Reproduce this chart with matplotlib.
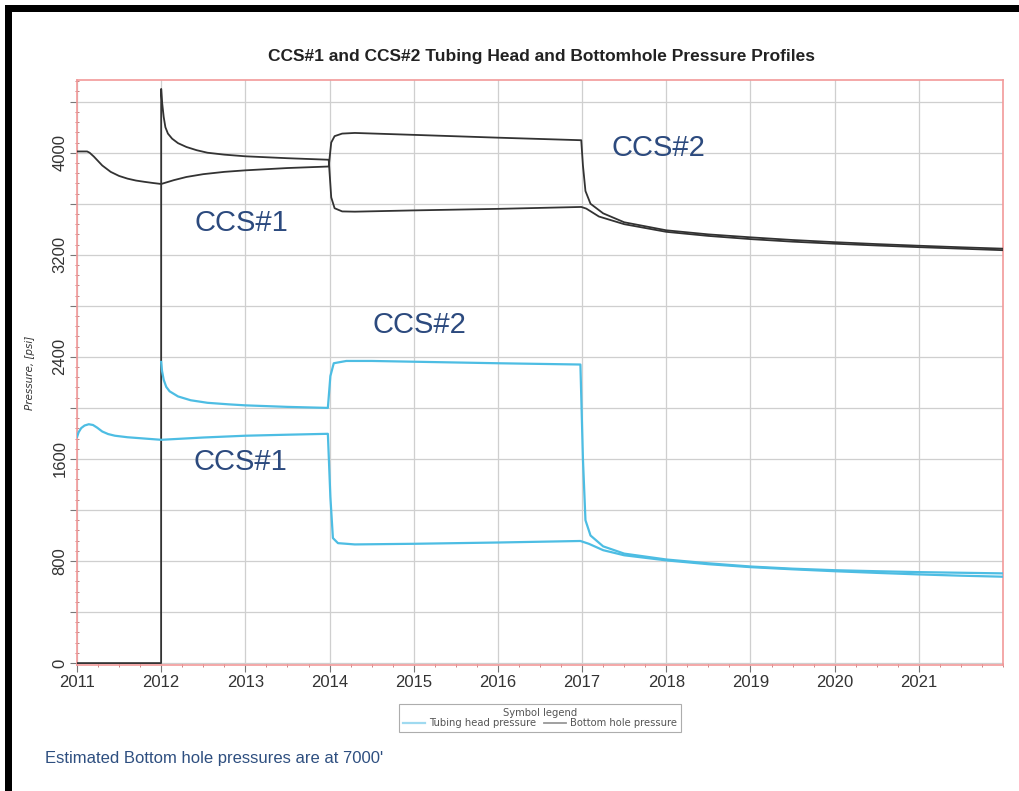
import matplotlib
matplotlib.use('Agg')
import matplotlib.pyplot as plt
from matplotlib.patches import Rectangle
from matplotlib.ticker import MultipleLocator

# ---------------- data (decimal years, psi) ----------------
bhp1_t = [2011.0, 2011.12, 2011.15, 2011.2, 2011.25, 2011.3, 2011.4, 2011.5, 2011.6, 2011.7,
          2011.8, 2011.9, 2012.0, 2012.05, 2012.15, 2012.3, 2012.5, 2012.75, 2013.0, 2013.5,
          2013.99, 2014.02, 2014.06, 2014.15, 2014.3, 2015.0, 2016.0, 2016.99,
          2017.01, 2017.04, 2017.1, 2017.25, 2017.5, 2018.0, 2018.5, 2019.0, 2019.5, 2020.0,
          2020.5, 2021.0, 2021.5, 2022.0]
bhp1_v = [4010, 4010, 4000, 3970, 3935, 3900, 3850, 3818, 3797, 3782,
          3772, 3763, 3755, 3765, 3785, 3810, 3832, 3850, 3862, 3880,
          3892, 4080, 4130, 4150, 4155, 4140, 4118, 4098,
          3900, 3700, 3600, 3525, 3455, 3392, 3360, 3337, 3316, 3299,
          3284, 3271, 3259, 3248]

bhp2_t = [2011.0, 2011.999, 2012.0, 2012.01, 2012.03, 2012.05, 2012.08, 2012.13, 2012.2, 2012.3,
          2012.42, 2012.55, 2012.75, 2013.0, 2013.5, 2013.99, 2014.02, 2014.06, 2014.15, 2014.3,
          2015.0, 2016.0, 2016.99, 2017.05, 2017.2, 2017.5, 2018.0, 2018.5, 2019.0, 2019.5,
          2020.0, 2020.5, 2021.0, 2021.5, 2022.0]
bhp2_v = [0, 0, 4500, 4400, 4280, 4200, 4150, 4110, 4075, 4045,
          4020, 4000, 3985, 3972, 3957, 3945, 3650, 3565, 3540, 3538,
          3548, 3560, 3575, 3562, 3500, 3440, 3380, 3348, 3323, 3303,
          3287, 3273, 3260, 3248, 3236]

thp1_t = [2011.0, 2011.02, 2011.05, 2011.09, 2011.14, 2011.19, 2011.24, 2011.3, 2011.37, 2011.45,
          2011.6, 2011.8, 2012.0, 2012.5, 2013.0, 2013.5, 2013.98, 2014.01, 2014.04, 2014.1,
          2014.3, 2015.0, 2016.0, 2016.98, 2017.08, 2017.25, 2017.5, 2018.0, 2018.5, 2019.0,
          2019.5, 2020.0, 2020.5, 2021.0, 2021.5, 2022.0]
thp1_v = [1772, 1810, 1842, 1862, 1872, 1866, 1845, 1815, 1795, 1782,
          1770, 1760, 1750, 1768, 1782, 1790, 1797, 1300, 980, 940,
          930, 935, 945, 957, 935, 885, 845, 805, 775, 752,
          735, 720, 707, 695, 685, 677]

thp2_t = [2012.0, 2012.01, 2012.03, 2012.06, 2012.1, 2012.2, 2012.35, 2012.55, 2012.8, 2013.0,
          2013.5, 2013.98, 2014.01, 2014.05, 2014.2, 2014.5, 2015.0, 2016.0, 2016.98, 2017.01,
          2017.04, 2017.1, 2017.25, 2017.5, 2018.0, 2018.5, 2019.0, 2019.5, 2020.0, 2020.5,
          2021.0, 2021.5, 2022.0]
thp2_v = [2360, 2290, 2220, 2165, 2130, 2090, 2060, 2040, 2028, 2020,
          2008, 2000, 2250, 2350, 2368, 2368, 2362, 2350, 2340, 1600,
          1120, 1000, 915, 858, 812, 782, 757, 740, 728, 720,
          713, 708, 703]

year_ticks = list(range(2011, 2022))
year_labels = [str(y) for y in year_ticks]
p_ticks = list(range(0, 4401, 400))
p_labels = [str(p) if p % 800 == 0 else '' for p in p_ticks]

title = 'CCS#1 and CCS#2 Tubing Head and Bottomhole Pressure Profiles'
annotations = [('CCS#1', 2012.95, 3450), ('CCS#2', 2017.91, 4036),
               ('CCS#2', 2015.07, 2650), ('CCS#1', 2012.94, 1575)]

# ---------------- figure ----------------
W, H = 1019, 791
fig = plt.figure(figsize=(W / 100, H / 100), dpi=100)
fig.patch.set_facecolor('white')

# black frame (top and left)
fig.add_artist(Rectangle((5 / W, 1 - 12 / H), 1 - 5 / W, 7 / H, transform=fig.transFigure,
                         facecolor='black', edgecolor='none'))
fig.add_artist(Rectangle((5 / W, 0), 7 / W, 1 - 5 / H, transform=fig.transFigure,
                         facecolor='black', edgecolor='none'))

ax = fig.add_axes([77 / W, 1 - 665 / H, (1003 - 77) / W, (665 - 80) / H])

blue = '#4dbde3'
dark = '#333333'
l_b1, = ax.plot(bhp1_t, bhp1_v, color=dark, lw=1.3, zorder=3)
ax.plot(bhp2_t, bhp2_v, color=dark, lw=1.3, zorder=3)
l_t1, = ax.plot(thp1_t, thp1_v, color=blue, lw=1.6, zorder=4)
ax.plot(thp2_t, thp2_v, color=blue, lw=1.6, zorder=4)

ax.set_xlim(2011, 2022)
ax.set_ylim(-15, 4570)

ax.set_xticks(year_ticks, year_labels)
ax.xaxis.set_minor_locator(MultipleLocator(0.25))
ax.set_yticks(p_ticks, p_labels, rotation=90, va='center')
ax.yaxis.set_minor_locator(MultipleLocator(80))

ax.tick_params(axis='both', which='major', length=5, width=0.8, color='#777777',
               labelsize=12, labelcolor='#333333', pad=2)
ax.tick_params(axis='both', which='minor', length=2.5, width=0.6, color='#c07070',
               direction='inout')
ax.grid(True, which='major', color='#cfcfcf', lw=0.9)
ax.set_axisbelow(True)
for s in ax.spines.values():
    s.set_color('#f29a9a')
    s.set_linewidth(1.2)

ax.set_ylabel('Pressure, [psi]', fontsize=7.5, style='italic', color='#333333')
ax.yaxis.set_label_coords(-0.045, 0.50)

fig.text(541 / W, 1 - 57 / H, title, ha='center', va='center', fontsize=12.5,
         fontweight='bold', color='#222222', family=['Liberation Sans', 'DejaVu Sans'])

for txt, x, y in annotations:
    ax.text(x, y, txt, ha='center', va='center', fontsize=21, color='#2c4a7e',
            family=['Liberation Sans', 'DejaVu Sans'], zorder=5)

fig.text(45 / W, 1 - 759 / H, "Estimated Bottom hole pressures are at 7000'", ha='left',
         va='center', fontsize=12, color='#2e4f80',
         family=['Liberation Sans', 'DejaVu Sans'])

leg = fig.legend([l_t1, l_b1], ['Tubing head pressure', 'Bottom hole pressure'],
                 loc='upper center', bbox_to_anchor=(540 / W, 1 - 699 / H),
                 bbox_transform=fig.transFigure, ncol=2, title='Symbol legend',
                 fontsize=7.2, title_fontsize=7.2, frameon=True, fancybox=False,
                 edgecolor='#999999', borderpad=0.35, handlelength=2.2,
                 handletextpad=0.4, columnspacing=0.8, labelspacing=0.1)
leg.get_frame().set_linewidth(0.8)
for t in leg.get_texts():
    t.set_color('#555555')
leg.get_title().set_color('#555555')
leg.get_lines()[0].set_color('#9fdaf0')
leg.get_lines()[1].set_color('#999999')

for lab in ax.get_xticklabels() + ax.get_yticklabels():
    lab.set_family(['Liberation Sans', 'DejaVu Sans'])

fig.savefig('out.png', dpi=100)
